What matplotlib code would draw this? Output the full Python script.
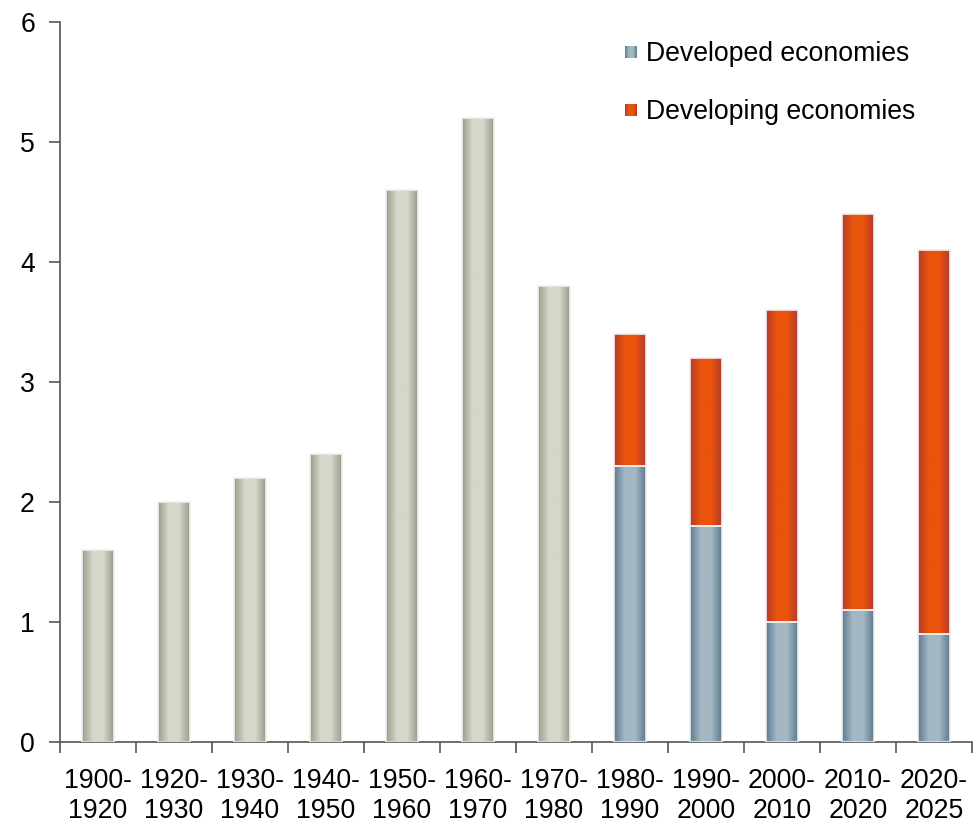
import matplotlib
matplotlib.use("Agg")
import matplotlib.pyplot as plt
import numpy as np
from matplotlib.colors import LinearSegmentedColormap
from matplotlib.legend_handler import HandlerBase
from matplotlib.patches import Rectangle

plt.rcParams["font.family"] = ["Liberation Sans", "DejaVu Sans"]

periods = ["1900-\n1920", "1920-\n1930", "1930-\n1940", "1940-\n1950", "1950-\n1960", "1960-\n1970",
           "1970-\n1980", "1980-\n1990", "1990-\n2000", "2000-\n2010", "2010-\n2020", "2020-\n2025"]
world = [1.6, 2.0, 2.2, 2.4, 4.6, 5.2, 3.8]              # total only, first 7 periods
developed = [2.3, 1.8, 1.0, 1.1, 0.9]                    # last 5 periods
developing = [1.1, 1.4, 2.6, 3.3, 3.2]

GREY = ("#9c9c8c", "#d6d6ca")
BLUE = ("#5e7d90", "#a3b7c3")
ORANGE = ("#b33a2c", "#ea540c")
FS = 19.2


def grad_cmap(edge, mid):
    return LinearSegmentedColormap.from_list("g", [edge, mid, mid, edge])


def gradient_bars(ax, bars, cols):
    cm = grad_cmap(*cols)
    g = np.linspace(0, 1, 64).reshape(1, -1)
    for b in bars:
        x0, y0 = b.get_x(), b.get_y()
        w, h = b.get_width(), b.get_height()
        im = ax.imshow(g, cmap=cm, aspect="auto", extent=[x0, x0 + w, y0, y0 + h],
                       interpolation="bilinear", zorder=2)
        im.set_clip_path(b)
        b.set_facecolor("none")
        b.set_edgecolor("#f2eeee")
        b.set_linewidth(1.2)
        b.set_zorder(3)


class GradHandler(HandlerBase):
    def __init__(self, cols):
        super().__init__()
        self.cols = cols

    def create_artists(self, legend, orig, xd, yd, width, height, fontsize, trans):
        cm = grad_cmap(*self.cols)
        s = width
        x0 = xd
        y0 = yd + (height - s) / 2
        n = 12
        arts = []
        for i in range(n):
            arts.append(Rectangle((x0 + i * s / n, y0), s / n + 0.3, s, facecolor=cm((i + 0.5) / n),
                                  edgecolor="none", transform=trans))
        return arts


fig = plt.figure(figsize=(9.78, 8.25), dpi=100)
ax = fig.add_axes([0.0613, 0.1006, 0.9325, 0.8727])

x = np.arange(len(periods))
w = 0.42
b1 = ax.bar(x[:7], world, width=w)
b2 = ax.bar(x[7:], developed, width=w)
b3 = ax.bar(x[7:], developing, width=w, bottom=developed)
gradient_bars(ax, b1, GREY)
gradient_bars(ax, b2, BLUE)
gradient_bars(ax, b3, ORANGE)

ax.set_xlim(-0.5, len(periods) - 0.5)
ax.set_ylim(0, 6)
ax.set_yticks(range(7))
ax.set_xticks(np.arange(len(periods) + 1) - 0.5)
ax.set_xticklabels([])
ax.set_xticks(x, minor=True)
ax.set_xticklabels(periods, minor=True)
ax.tick_params(axis="x", which="minor", length=0, pad=19, labelsize=FS)
ax.tick_params(axis="x", which="major", length=8, width=1.2, color="#555555")
ax.tick_params(axis="y", length=8, width=1.2, color="#555555", pad=10, labelsize=FS)
for s in ["top", "right"]:
    ax.spines[s].set_visible(False)
for s in ["left", "bottom"]:
    ax.spines[s].set_color("#555555")
    ax.spines[s].set_linewidth(1.2)

h1 = Rectangle((0, 0), 1, 1)
h2 = Rectangle((0, 0), 1, 1)
ax.legend([h1, h2], ["Developed economies", "Developing economies"],
          handler_map={h1: GradHandler(BLUE), h2: GradHandler(ORANGE)},
          loc="upper left", bbox_to_anchor=(0.6195, 0.973), borderaxespad=0, borderpad=0,
          frameon=False, fontsize=FS, labelspacing=1.2, handlelength=0.45, handletextpad=0.34)

fig.savefig("out.png", dpi=100)
